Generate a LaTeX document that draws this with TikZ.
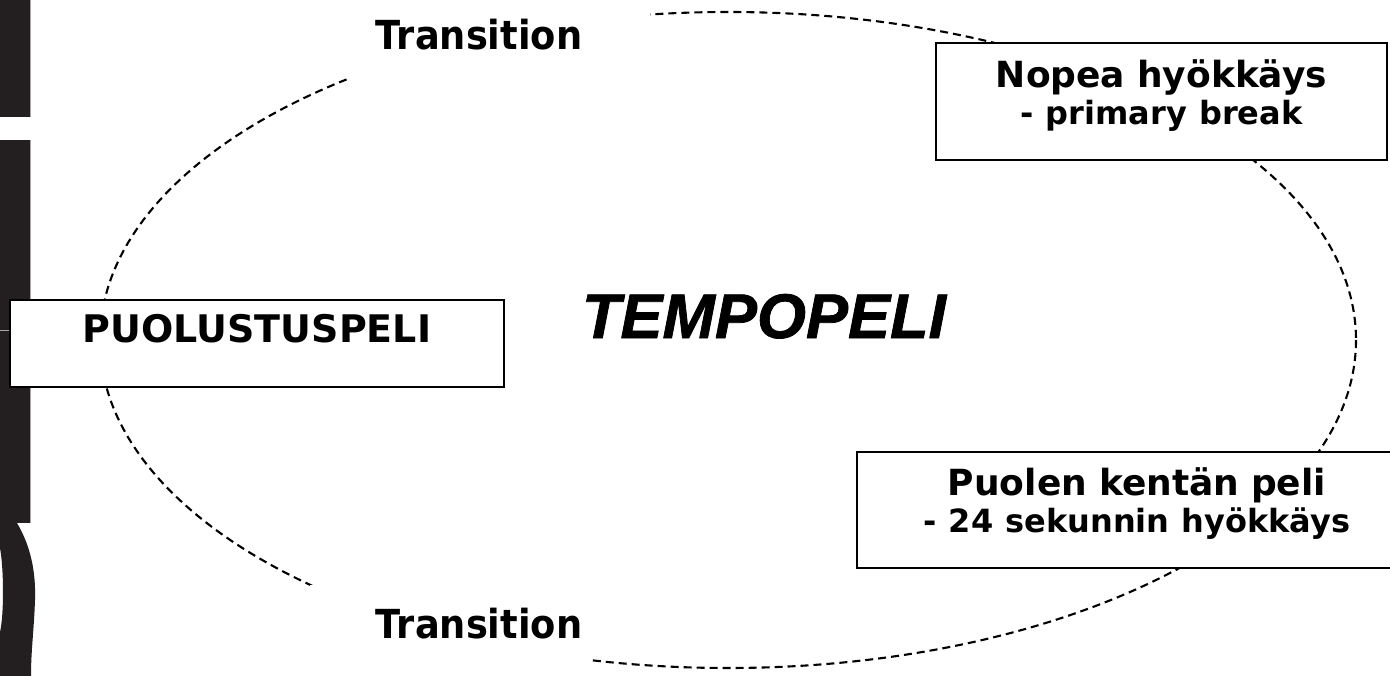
\documentclass[tikz,border=0pt]{standalone}
\usepackage{fontspec}
\setmainfont{DejaVu Sans}
\newfontfamily\transfont{DejaVu Sans}[FakeStretch=0.92]
\newfontfamily\tempofont{Liberation Sans}[FakeBold=1.2]
\usetikzlibrary{positioning}
\definecolor{stripblack}{HTML}{231F20}

\begin{document}
\begin{tikzpicture}[x=1pt,y=-1pt,
    phase/.style={draw,line width=1.8pt,fill=white,inner sep=0pt,align=center,anchor=base,font={\fontsize{36}{37}\selectfont\bfseries}},
    ringline/.style={dash pattern=on 8pt off 5pt,line width=2.1pt},
    trans/.style={inner sep=0pt,anchor=base,font={\fontsize{40}{40}\selectfont\transfont\bfseries}}]
    \useasboundingbox (0,0) rectangle (1390,676);
    \clip (0,0) rectangle (1390,676);
    \fill[white] (0,0) rectangle (1390,676);
    % strip at the left edge
    \foreach \a/\b in {0/117, 140/523} { \fill[stripblack] (0,\a) rectangle (30,\b); \draw[gray!70,line width=0.8pt] (30,\a) -- (30,\b); }
    \fill[stripblack] (0,523) -- (17,523) .. controls (30,545) and (36,570) .. (35,600) .. controls (34,630) and (31,650) .. (31,676) -- (0,676) -- (0,632) .. controls (4,615) and (4,570) .. (0,548) -- cycle;
    \draw[gray!70,line width=0.6pt] (0,330) -- (10,330);
    % the cycle
    \draw[ringline] (728,340) ellipse [x radius=628, y radius=328];
    \fill[white] (348,0) rectangle (650,80);
    \fill[white] (310,585) rectangle (590,676);
    \node[trans] (trtop) at (479,50) {Transition};
    \node[trans] (trbot) at (479,638) {Transition};
    \node[phase,text width=494pt,text height=43pt,text depth=44pt,font={\fontsize{38}{40}\selectfont\bfseries}] (puolustus) at (257,343) {PUOLUSTUSPELI};
    \node[inner sep=0pt,anchor=base,font={\fontsize{63}{64}\selectfont\tempofont\bfseries\itshape}] (tempo) at (764,338) {TEMPOPELI};
    \node[phase,text width=451pt,text height=45pt,text depth=72pt] (nopea) at (1161.5,88) {Nopea hyökkäys\\\fontsize{32}{37}\selectfont - primary break};
    \node[phase,text width=560pt,text height=43pt,text depth=73pt] (puolen) at (1137,495) {Puolen kentän peli\\\fontsize{32}{38}\selectfont - 24 sekunnin hyökkäys};
\end{tikzpicture}
\end{document}
